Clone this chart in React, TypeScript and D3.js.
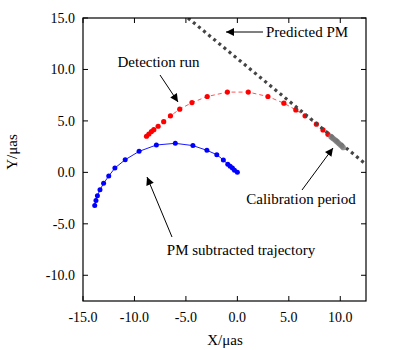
import React from 'react';
import * as d3 from 'd3';

// PM subtracted trajectory (blue)
const trajX = [0, -0.28, -0.48, -0.7, -0.93, -1.36, -2.0, -2.96, -4.32, -6.03, -7.87, -9.55, -10.9, -11.9, -12.5, -13.0, -13.35, -13.6, -13.74, -13.86];
const trajY = [0, 0.2, 0.42, 0.6, 0.8, 1.2, 1.72, 2.14, 2.6, 2.82, 2.66, 2.04, 1.23, 0.42, -0.36, -1.07, -1.7, -2.28, -2.73, -3.22];

// Detection run (red)
const detX = [-8.83, -8.6, -8.35, -8.12, -7.7, -7.16, -6.5, -5.6, -4.41, -2.93, -0.97, 1.06, 2.97, 4.52, 5.68, 6.58, 7.68, 8.32, 8.8];
const detY = [3.51, 3.73, 3.96, 4.15, 4.48, 4.93, 5.49, 6.14, 6.78, 7.37, 7.8, 7.8, 7.37, 6.72, 6.07, 5.49, 4.68, 4.12, 3.7];

// Calibration period (grey cluster)
const calX = [9.1, 9.25, 9.4, 9.55, 9.7, 9.85, 10.0, 10.15, 10.28];
const calY = [3.47, 3.34, 3.22, 3.09, 2.96, 2.83, 2.69, 2.56, 2.42];

// Predicted PM (dotted straight line)
const predX = [-4.8, 12.5];
const predY = [15.0, 0.78];

const xTicks = [-15, -10, -5, 0, 5, 10];
const yTicks = [-10, -5, 0, 5, 10, 15];

const W = 396;
const H = 350;
const margin = { top: 18, right: 30, bottom: 49, left: 83 };
const font = '"Liberation Serif", "DejaVu Serif", serif';

export default function App() {
  const x = d3.scaleLinear().domain([-15, 12.5]).range([margin.left, W - margin.right]);
  const y = d3.scaleLinear().domain([-12.5, 15]).range([H - margin.bottom, margin.top]);
  const [x0, x1] = x.range();
  const [y0, y1] = y.range();

  const line = d3.line<[number, number]>().x((d) => x(d[0])).y((d) => y(d[1]));
  const traj = trajX.map((v, i) => [v, trajY[i]] as [number, number]);
  const det = detX.map((v, i) => [v, detY[i]] as [number, number]);
  const cal = calX.map((v, i) => [v, calY[i]] as [number, number]);
  const pred = predX.map((v, i) => [v, predY[i]] as [number, number]);

  const tick = 5;
  const fmt = (v: number) => v.toFixed(1);

  return (
    <svg width={W} height={H} style={{ position: 'absolute', left: 0, top: 0, background: '#fff' }}
      fontFamily={font} fontSize={14}>
      <defs>
        <marker id="arr" viewBox="0 0 10 10" refX="10" refY="5" markerWidth="10" markerHeight="8"
          markerUnits="userSpaceOnUse" orient="auto">
          <path d="M0,0 L10,5 L0,10 z" fill="#000" />
        </marker>
        <clipPath id="plot">
          <rect x={x0} y={y1} width={x1 - x0} height={y0 - y1} />
        </clipPath>
      </defs>

      <g clipPath="url(#plot)">
        <path d={line(det) || ''} fill="none" stroke="#ff4040" strokeWidth={0.9} strokeDasharray="4,3" />
        {det.map((d, i) => (
          <circle key={`d${i}`} cx={x(d[0])} cy={y(d[1])} r={2.6} fill="#ff0000" />
        ))}
        <path d={line(pred) || ''} fill="none" stroke="#444" strokeWidth={3.2} strokeDasharray="3,3.6" />
        {cal.map((d, i) => (
          <circle key={`c${i}`} cx={x(d[0])} cy={y(d[1])} r={2.8} fill="#777" opacity={0.8} />
        ))}
        <path d={line(traj) || ''} fill="none" stroke="#0000ff" strokeWidth={0.9} />
        {traj.map((d, i) => (
          <circle key={`t${i}`} cx={x(d[0])} cy={y(d[1])} r={2.5} fill="#0000ff" />
        ))}
      </g>

      {/* frame and mirrored inner ticks */}
      <rect x={x0} y={y1} width={x1 - x0} height={y0 - y1} fill="none" stroke="#000" strokeWidth={1.2} />
      {xTicks.map((t) => (
        <g key={`xt${t}`}>
          <line x1={x(t)} x2={x(t)} y1={y0} y2={y0 - tick} stroke="#000" />
          <line x1={x(t)} x2={x(t)} y1={y1} y2={y1 + tick} stroke="#000" />
          <text x={x(t)} y={y0 + 21} textAnchor="middle">{fmt(t)}</text>
        </g>
      ))}
      {yTicks.map((t) => (
        <g key={`yt${t}`}>
          <line x1={x0} x2={x0 + tick} y1={y(t)} y2={y(t)} stroke="#000" />
          <line x1={x1} x2={x1 - tick} y1={y(t)} y2={y(t)} stroke="#000" />
          <text x={x0 - 8} y={y(t) + 5} textAnchor="end">{fmt(t)}</text>
        </g>
      ))}

      <text x={225} y={345} textAnchor="middle" fontSize={15}>X/μas</text>
      <text transform="translate(17,152) rotate(-90)" textAnchor="middle" fontSize={15}>Y/μas</text>

      {/* annotations */}
      <g fontSize={15}>
        <text x={266} y={37}>Predicted PM</text>
        <line x1={263} y1={32} x2={226} y2={32} stroke="#000" markerEnd="url(#arr)" />

        <text x={158.5} y={67} textAnchor="middle">Detection run</text>
        <line x1={160} y1={75} x2={178} y2={102} stroke="#000" markerEnd="url(#arr)" />

        <text x={301} y={204} textAnchor="middle">Calibration period</text>
        <line x1={302} y1={190} x2={333} y2={148} stroke="#000" markerEnd="url(#arr)" />

        <text x={241} y={255} textAnchor="middle">PM subtracted trajectory</text>
        <line x1={172} y1={237} x2={147} y2={177} stroke="#000" markerEnd="url(#arr)" />
      </g>
    </svg>
  );
}
